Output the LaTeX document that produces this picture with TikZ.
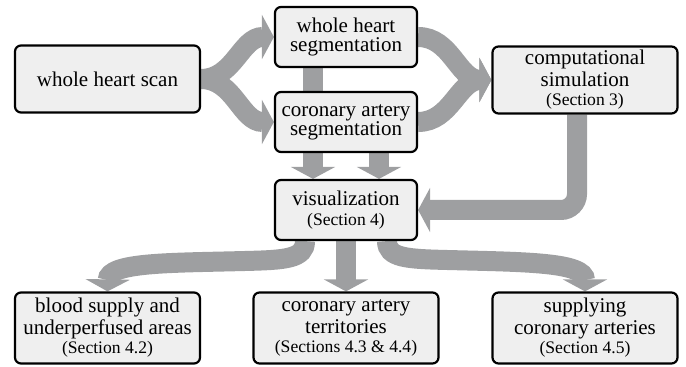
\documentclass[tikz,border=0pt]{standalone}
\usepackage{fontspec}
\setmainfont{Liberation Serif}
\usetikzlibrary{arrows.meta, backgrounds}
\definecolor{flowgray}{RGB}{158,159,161}
\definecolor{boxfill}{RGB}{239,239,239}
\newcommand{\secref}[1]{\\[-1.1pt]{\fontsize{8.8}{10}\selectfont(#1)}}
\tikzset{
box/.style={%
    rectangle,
    rounded corners=3pt,
    draw=black,
    line width=1.1pt,
    fill=boxfill,
    align=center,
    inner sep=1pt,
    % Font
    font=\fontsize{10.5}{10.8}\selectfont,
},
wide/.style={box, minimum width=92.5pt, minimum height=33.5pt},
narrow/.style={box, minimum width=71pt, minimum height=30pt},
tall/.style={wide, minimum height=35.5pt},
flow/.style={draw=flowgray, line width=10pt, -{Triangle[width=22pt,length=6pt]}},
}

\begin{document}
\begin{tikzpicture}[x=0.5pt, y=-0.5pt]
	\useasboundingbox (0,0) rectangle (686,367);
	\node[wide] (scan) at (107.5,79) {whole heart scan};
	\node[narrow] (heartseg) at (346,37) {whole heart\\[-1.4pt]segmentation};
	\node[narrow] (corseg) at (346,122) {coronary artery\\[-1.4pt]segmentation};
	\node[wide] (sim) at (585,80) {computational\\simulation\secref{Section 3}};
	\node[narrow] (vis) at (346,210) {visualization\secref{Section 4}};
	\node[tall] (supply) at (107.5,328) {blood supply and\\underperfused areas\secref{Section 4.2}};
	\node[tall] (terr) at (346,328) {coronary artery\\territories\secref{Sections 4.3 \& 4.4}};
	\node[tall] (arteries) at (585,328) {supplying\\coronary arteries\secref{Section 4.5}};

\begin{scope}[on background layer]
	\draw[flow] (scan.east) to[out=0,in=180] (heartseg.west);
	\draw[flow] (scan.east) to[out=0,in=180] (corseg.west);
	\draw[flow] (heartseg.east) to[out=0,in=180] (sim.west);
	\draw[flow] (corseg.east) to[out=0,in=180] (sim.west);
	\draw[flow] ([xshift=-16.5pt]heartseg.south) -- ([xshift=-16.5pt]vis.north);
	\draw[flow] ([xshift=16.5pt]corseg.south) -- ([xshift=16.5pt]vis.north);
	\draw[flow, rounded corners=8pt] ([xshift=-4pt]sim.south) |- (vis.east);
	\draw[flow] ([xshift=-20.5pt]vis.south) .. controls (305,259) and (285,260) .. (245,261)
		.. controls (170,263) and (108,262) .. (supply.north);
	\draw[flow] (vis.south) -- (terr.north);
	\draw[flow] ([xshift=20.5pt]vis.south) .. controls (387,258) and (407,259) .. (447,260)
		.. controls (525,262) and (585,262) .. (arteries.north);
\end{scope}
\end{tikzpicture}
\end{document}
